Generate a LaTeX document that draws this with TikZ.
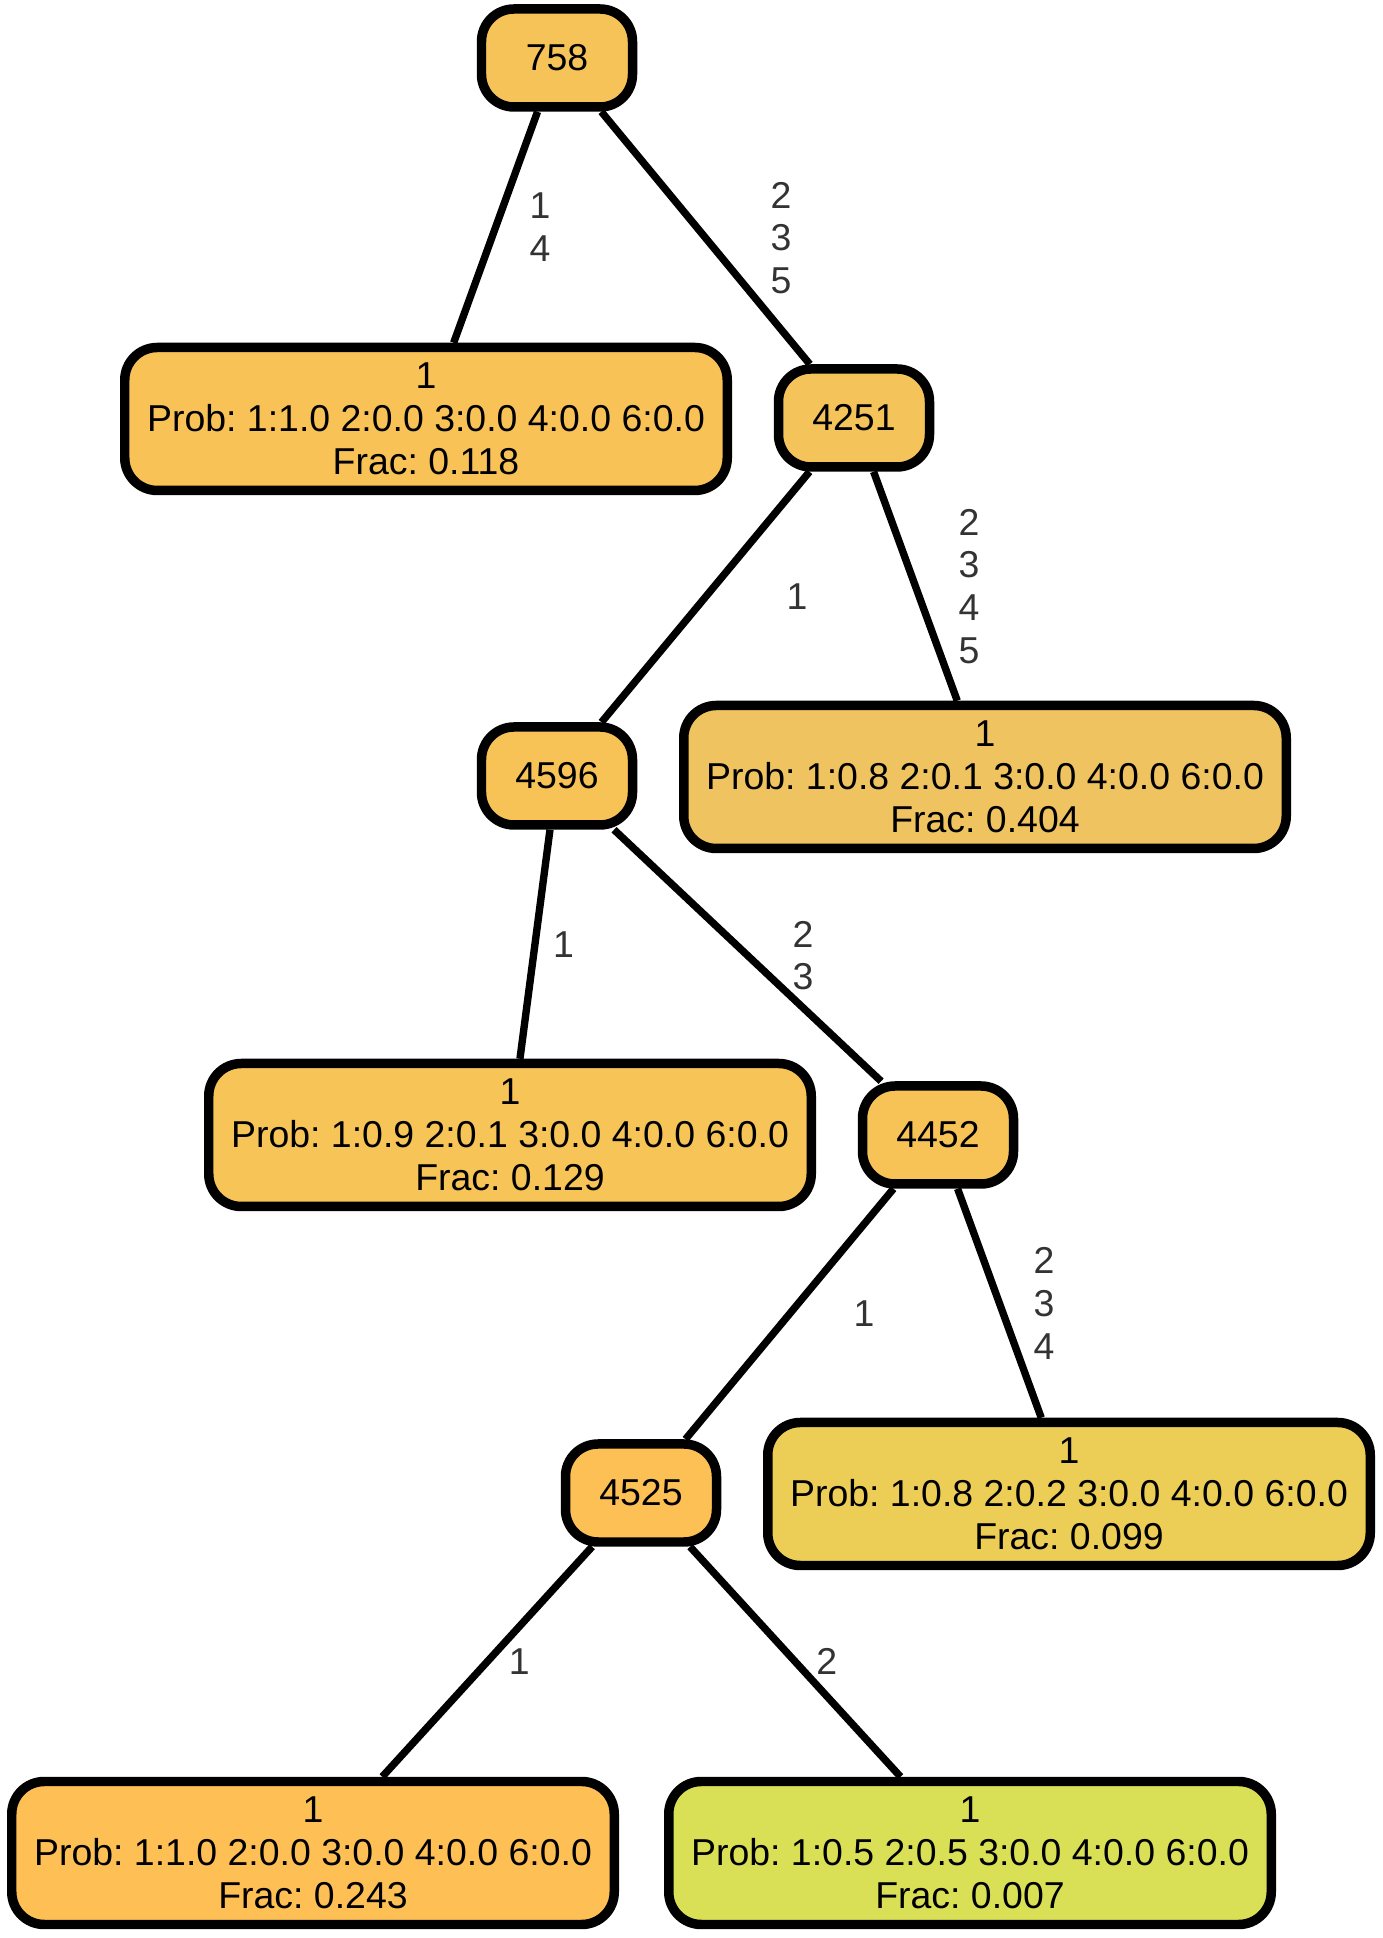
\documentclass[tikz,border=0pt]{standalone}
\usepackage{fontspec}
\setmainfont{Liberation Sans}
\frenchspacing
\usetikzlibrary{positioning}
\tikzstyle{decision}=[draw,rounded corners=0.65cm,line width=5.4pt,minimum width=3.02cm,minimum height=1.96cm,inner sep=0pt,font=\fontsize{21.3}{24.3}\selectfont]
\tikzstyle{leaf}=[draw,rounded corners=0.65cm,line width=5.4pt,minimum width=12.05cm,minimum height=2.86cm,inner sep=0pt,align=center,font=\fontsize{21.3}{24.3}\selectfont]
\tikzstyle{cond}=[align=center,text=labelgray,inner sep=0pt,font=\fontsize{21.3}{24.3}\selectfont]
\definecolor{labelgray}{RGB}{51,51,51}
\definecolor{c758}{RGB}{245,195,88}
\definecolor{c4251}{RGB}{244,195,90}
\definecolor{c4596}{RGB}{247,195,87}
\definecolor{c4452}{RGB}{247,195,87}
\definecolor{c4525}{RGB}{253,192,84}
\definecolor{leafa}{RGB}{249,194,86}
\definecolor{leafb}{RGB}{238,195,96}
\definecolor{leafc}{RGB}{246,196,87}
\definecolor{leafd}{RGB}{236,206,86}
\definecolor{leafe}{RGB}{254,192,85}
\definecolor{leaff}{RGB}{218,224,85}

\begin{document}
\begin{tikzpicture}[line width=4.2pt]
\useasboundingbox (0,0) rectangle (27.66,38.76);
\draw (11.14, 37.60) node [decision, fill=c758] (v758) {758};
\draw (8.52, 30.38) node [leaf, fill=leafa] (la) {1\\Prob: 1:1.0 2:0.0 3:0.0 4:0.0 6:0.0\\Frac: 0.118};
\draw (17.08, 30.40) node [decision, fill=c4251] (v4251) {4251};
\draw (11.14, 23.24) node [decision, fill=c4596] (v4596) {4596};
\draw (19.70, 23.22) node [leaf, fill=leafb] (lb) {1\\Prob: 1:0.8 2:0.1 3:0.0 4:0.0 6:0.0\\Frac: 0.404};
\draw (10.20, 16.06) node [leaf, fill=leafc] (lc) {1\\Prob: 1:0.9 2:0.1 3:0.0 4:0.0 6:0.0\\Frac: 0.129};
\draw (18.76, 16.06) node [decision, fill=c4452] (v4452) {4452};
\draw (12.82, 8.90) node [decision, fill=c4525] (v4525) {4525};
\draw (21.38, 8.88) node [leaf, fill=leafd] (ld) {1\\Prob: 1:0.8 2:0.2 3:0.0 4:0.0 6:0.0\\Frac: 0.099};
\draw (6.26, 1.70) node [leaf, fill=leafe] (le) {1\\Prob: 1:1.0 2:0.0 3:0.0 4:0.0 6:0.0\\Frac: 0.243};
\draw (19.40, 1.70) node [leaf, fill=leaff] (lf) {1\\Prob: 1:0.5 2:0.5 3:0.0 4:0.0 6:0.0\\Frac: 0.007};
\draw (v758) -- (la) node[midway, xshift=0.89cm, cond] (e1) {1\\4};
\draw (v758) -- (v4251) node[midway, xshift=1.51cm, cond] (e2) {2\\3\\5};
\draw (v4251) -- (v4596) node[midway, xshift=1.83cm, cond] (e3) {1};
\draw (v4251) -- (lb) node[midway, xshift=1.07cm, cond] (e4) {2\\3\\4\\5};
\draw (v4596) -- (lc) node[midway, xshift=0.57cm, cond] (e5) {1};
\draw (v4596) -- (v4452) node[midway, xshift=1.11cm, cond] (e6) {2\\3};
\draw (v4452) -- (v4525) node[midway, xshift=1.49cm, cond] (e7) {1};
\draw (v4452) -- (ld) node[midway, xshift=0.89cm, cond] (e8) {2\\3\\4};
\draw (v4525) -- (le) node[midway, xshift=0.64cm, cond] (e9) {1};
\draw (v4525) -- (lf) node[midway, xshift=0.63cm, cond] (e10) {2};
\end{tikzpicture}
\end{document}
